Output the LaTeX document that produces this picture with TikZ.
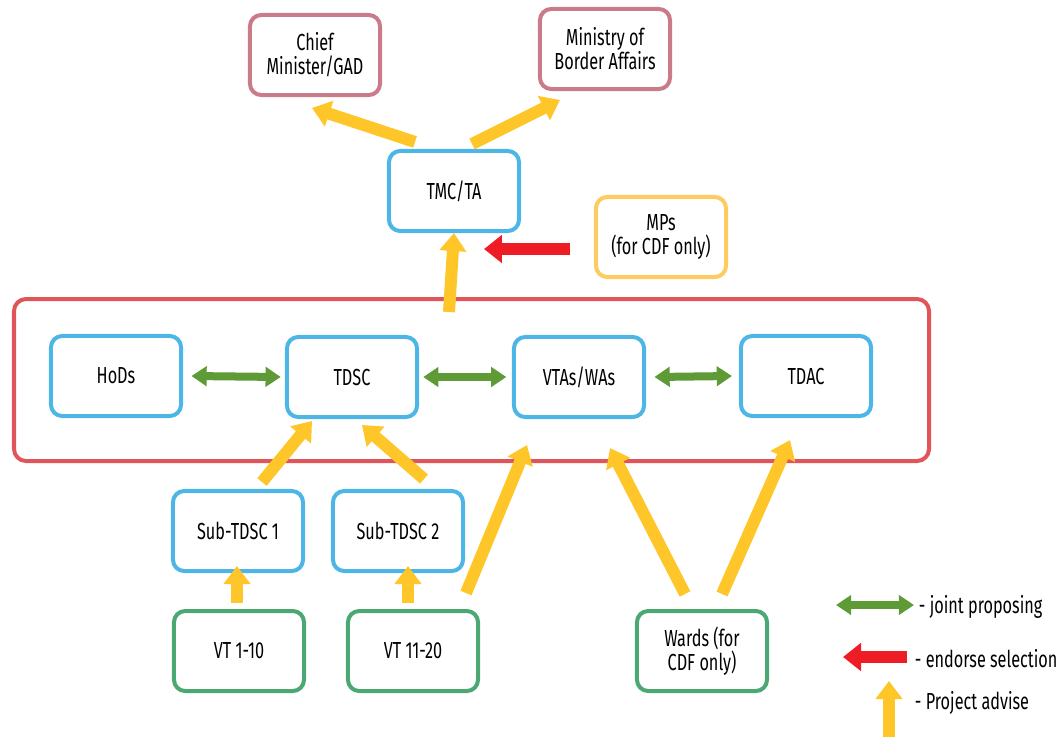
\documentclass[tikz,border=0pt]{standalone}
\usepackage{fontspec}
\setmainfont[FakeStretch=0.7]{Fira Sans}
\usetikzlibrary{arrows.meta}
\definecolor{boxblue}{HTML}{4DB6E6}
\definecolor{boxpink}{HTML}{C97B8A}
\definecolor{boxgreen}{HTML}{4BA872}
\definecolor{boxgold}{HTML}{FDCB60}
\definecolor{framered}{HTML}{E0555A}
\definecolor{advyellow}{HTML}{FFC629}
\definecolor{jointgreen}{HTML}{5E9A35}
\definecolor{endred}{HTML}{EE1C25}
\begin{document}
\begin{tikzpicture}[x=0.025cm,y=-0.025cm,
  box/.style={draw,line width=0.1cm,rounded corners=0.28cm,minimum width=3.25cm,minimum height=2cm,align=center,font=\fontsize{16.5}{17}\selectfont},
  adv/.style={draw=advyellow,line width=0.3cm,-{Triangle[width=0.65cm,length=0.45cm]}},
  joint/.style={draw=jointgreen,line width=0.2cm,{Triangle[width=0.48cm,length=0.38cm]}-{Triangle[width=0.48cm,length=0.38cm]}},
  endorse/.style={draw=endred,line width=0.3cm,-{Triangle[width=0.68cm,length=0.45cm]}},
  legend/.style={anchor=west,font=\fontsize{16.5}{17}\selectfont}]
\useasboundingbox (0,0) rectangle (1064,738);
\draw[framered,line width=0.1cm,rounded corners=0.3cm] (14,299) rectangle (929,461);
\node[box,draw=boxpink] (cm) at (315,55) {Chief\\Minister/GAD};
\node[box,draw=boxpink] (mba) at (605,49) {Ministry of\\Border Affairs};
\node[box,draw=boxblue] (tmc) at (454,191) {TMC/TA};
\node[box,draw=boxgold] (mps) at (661,237) {MPs\\(for CDF only)};
\node[box,draw=boxblue] (hods) at (116,376) {HoDs};
\node[box,draw=boxblue] (tdsc) at (352,377) {TDSC};
\node[box,draw=boxblue] (vtas) at (579,377) {VTAs/WAs};
\node[box,draw=boxblue] (tdac) at (806,376) {TDAC};
\node[box,draw=boxblue] (subA) at (238,531) {Sub-TDSC 1};
\node[box,draw=boxblue] (subB) at (398,531) {Sub-TDSC 2};
\node[box,draw=boxgreen] (vtA) at (239,651) {VT 1-10};
\node[box,draw=boxgreen] (vtB) at (413,651) {VT 11-20};
\node[box,draw=boxgreen] (wards) at (702,651) {Wards (for\\CDF only)};
\draw[adv] ([shift={(-39,-7)}]tmc.north) -- ([shift={(-3,11)}]cm.south);
\draw[adv] ([shift={(18,-5)}]tmc.north) -- ([shift={(-45,9)}]mba.south);
\draw[adv] ([shift={(-5,79)}]tmc.south) -- (tmc.south);
\draw[endorse] ([shift={(-24,12)}]mps.west) -- ([shift={(-110,12)}]mps.west);
\draw[joint] ([xshift=6]hods.east) -- ([xshift=-3]tdsc.west);
\draw[joint] ([xshift=3]tdsc.east) -- ([xshift=-4]vtas.west);
\draw[joint] ([xshift=6]vtas.east) -- ([xshift=-5]tdac.west);
\draw[adv] ([shift={(24,-7)}]subA.north) -- ([shift={(-40,2)}]tdsc.south);
\draw[adv] ([shift={(26,-10)}]subB.north) -- ([shift={(10,6)}]tdsc.south);
\draw[adv] ([shift={(-2,-6)}]vtA.north) -- ([shift={(-1,-7)}]subA.south);
\draw[adv] ([shift={(-5,-6)}]vtB.north) -- ([shift={(10,-7)}]subB.south);
\draw[adv] ([shift={(53,-16)}]vtB.north) -- ([shift={(-52,26)}]vtas.south);
\draw[adv] ([shift={(-17,-15)}]wards.north) -- ([shift={(31,29)}]vtas.south);
\draw[adv] ([shift={(20,-15)}]wards.north) -- ([shift={(-16,22)}]tdac.south);
\coordinate (jA) at (836,605);
\coordinate (jB) at (914,605);
\coordinate (eA) at (907,657);
\coordinate (eB) at (843,657);
\coordinate (aA) at (889,737);
\coordinate (aB) at (889,681);
\draw[joint] (jA) -- (jB);
\draw[endorse] (eA) -- (eB);
\draw[adv] (aA) -- (aB);
\node[legend] (ljoint) at (914,607) {- joint proposing};
\node[legend] (lend) at (910,659) {- endorse selection};
\node[legend] (ladv) at (910,703) {- Project advise};
\end{tikzpicture}
\end{document}
